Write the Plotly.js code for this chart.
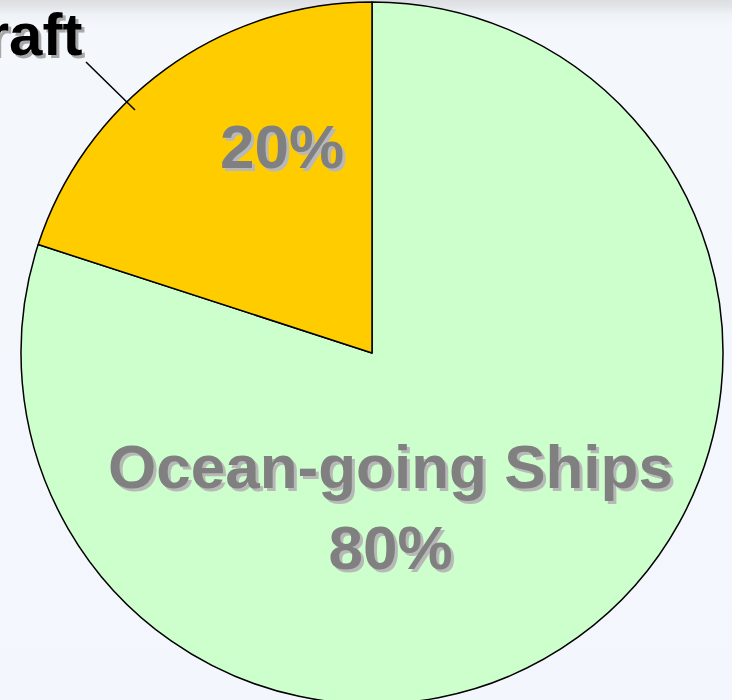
<!DOCTYPE html>
<html>
<head>
<meta charset="utf-8">
<script src="https://cdn.plot.ly/plotly-3.0.1.min.js"></script>
<style>
html,body{margin:0;padding:0;width:732px;height:700px;overflow:hidden;
background:linear-gradient(to bottom,#dcdee2 0px,#e2e4e8 6px,#eef1f5 14px,#f4f7fb 28px,#f3f6fd 100%);}
#chart{width:732px;height:704px;}
</style>
</head>
<body>
<div id="chart"></div>
<script>
const categories = ["Ocean-going Ships", "Harbor Craft"];
const values = [80, 20];
const colors = ["#CCFFCC", "#FFCC00"];

const FONT = "Liberation Sans, Arial, Helvetica, sans-serif";
const W = 732, H = 704;
const px = x => x / W;
const py = y => 1 - y / H;
const R = 351, CX = 372;

const pctFont = {family: FONT, size: 62, color: "#808080", weight: 700,
  shadow: "3px 3px 0px #b8b8b8"};

const trace = {
  type: "pie",
  labels: categories,
  values: values,
  sort: false,
  direction: "clockwise",
  rotation: 0,
  marker: {colors: colors, line: {color: "#000000", width: 1.5}},
  textinfo: "none",
  hoverinfo: "label+percent",
  showlegend: false,
  domain: {x: [(CX - R) / W, (CX + R) / W], y: [0, (2 * R) / H]}
};

const total = values.reduce((a, b) => a + b, 0);
const pct = v => Math.round(v / total * 100) + "%";

const layout = {
  width: W, height: H,
  margin: {l: 0, r: 0, t: 0, b: 0},
  paper_bgcolor: "rgba(0,0,0,0)",
  plot_bgcolor: "rgba(0,0,0,0)",
  showlegend: false,
  shapes: [
    {type: "line", xref: "paper", yref: "paper",
     x0: px(86), y0: py(62), x1: px(135), y1: py(110),
     line: {color: "#000000", width: 1.5}}
  ],
  annotations: [
    {xref: "paper", yref: "paper", x: px(282), y: py(146),
     xanchor: "center", yanchor: "middle", showarrow: false,
     text: pct(values[1]), font: pctFont},
    {xref: "paper", yref: "paper", x: px(390), y: py(507),
     xanchor: "center", yanchor: "middle", showarrow: false,
     text: categories[0] + "<br>" + pct(values[0]), font: pctFont},
    {xref: "paper", yref: "paper", x: px(84), y: py(34),
     xanchor: "right", yanchor: "middle", showarrow: false,
     text: categories[1],
     font: {family: FONT, size: 60, color: "#000000", weight: 700,
       shadow: "3px 3px 0px #a8a8a8"}}
  ]
};

Plotly.newPlot("chart", [trace], layout, {displayModeBar: false, staticPlot: true});
</script>
</body>
</html>
